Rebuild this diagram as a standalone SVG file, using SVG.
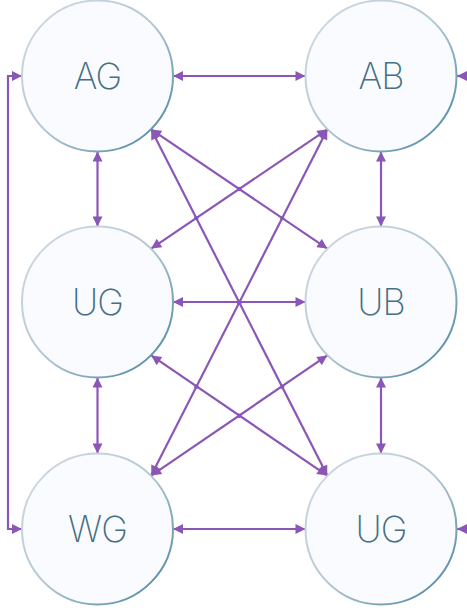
<svg xmlns="http://www.w3.org/2000/svg" width="467" height="611" viewBox="0 0 467 611">
<style>
.node circle{fill:#fafbfe;stroke:url(#ring);stroke-width:2}
.node text{font-family:Inter,"Open Sans","Liberation Sans",sans-serif;font-weight:200;font-size:36px;letter-spacing:-1px;fill:#456f84;text-anchor:middle}
.conn path,.conn line{stroke:#8a57b6;stroke-width:2.2;fill:none;marker-start:url(#ah);marker-end:url(#ah)}
.conn .one{marker-start:none}
.dot{fill:#8a57b6}
</style>
<defs>
<linearGradient id="ring" x1="0" y1="0" x2="1" y2="1">
<stop offset="0" stop-color="#d3dce4"/>
<stop offset="0.5" stop-color="#b4c7d3"/>
<stop offset="1" stop-color="#3f7f9c"/>
</linearGradient>
<marker id="ah" viewBox="0 0 10 10" refX="10" refY="5" markerWidth="12" markerHeight="10" markerUnits="userSpaceOnUse" orient="auto-start-reverse">
<path d="M0,0 L10,5 L0,10 z" fill="#8a57b6"/>
</marker>
</defs>
<g class="conn" id="connectors">
<line x1="173" y1="76" x2="305.5" y2="76"/>
<line x1="173" y1="302" x2="305.5" y2="302"/>
<line x1="173" y1="529" x2="305.5" y2="529"/>
<line x1="97.5" y1="151.5" x2="97.5" y2="226.5"/>
<line x1="381" y1="151.5" x2="381" y2="226.5"/>
<line x1="97.5" y1="377.5" x2="97.5" y2="453.5"/>
<line x1="381" y1="377.5" x2="381" y2="453.5"/>
<path d="M22,76 H8 V529 H22"/>
<path class="one" d="M470,76 H457"/>
<path class="one" d="M470,529 H457"/>
<line x1="151.2" y1="129.4" x2="327.3" y2="248.6"/>
<line x1="151.2" y1="129.4" x2="327.3" y2="475.6"/>
<line x1="327.3" y1="129.4" x2="151.2" y2="248.6"/>
<line x1="327.3" y1="129.4" x2="151.2" y2="475.6"/>
<line x1="151.2" y1="355.4" x2="327.3" y2="475.6"/>
<line x1="327.3" y1="355.4" x2="151.2" y2="475.6"/>
<circle class="dot" cx="239.3" cy="189" r="2.2"/>
<circle class="dot" cx="282.2" cy="218.1" r="2.2"/>
<circle class="dot" cx="196.3" cy="218.1" r="2.2"/>
<circle class="dot" cx="239.3" cy="302.3" r="2.5"/>
<circle class="dot" cx="196.3" cy="386.7" r="2.2"/>
<circle class="dot" cx="282.2" cy="386.7" r="2.2"/>
<circle class="dot" cx="239.3" cy="415.8" r="2.2"/>
</g>
<g class="node" id="AG"><circle cx="97.5" cy="76" r="75.5"/><text x="97.5" y="89">AG</text></g>
<g class="node" id="AB"><circle cx="381" cy="76" r="75.5"/><text x="381" y="89">AB</text></g>
<g class="node" id="UG1"><circle cx="97.5" cy="302" r="75.5"/><text x="97.5" y="315">UG</text></g>
<g class="node" id="UB"><circle cx="381" cy="302" r="75.5"/><text x="381" y="315">UB</text></g>
<g class="node" id="WG"><circle cx="97.5" cy="529" r="75.5"/><text x="97.5" y="542">WG</text></g>
<g class="node" id="UG2"><circle cx="381" cy="529" r="75.5"/><text x="381" y="542">UG</text></g>
</svg>
